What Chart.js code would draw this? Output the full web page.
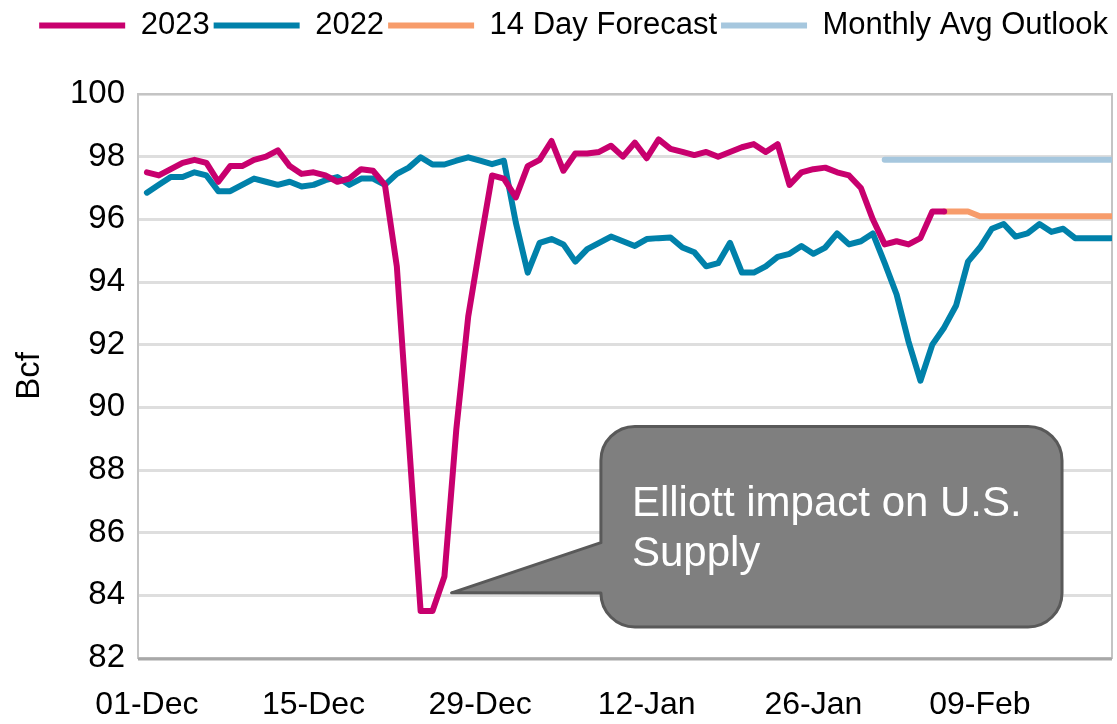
<!DOCTYPE html>
<html>
<head>
<meta charset="utf-8">
<script src="https://cdn.jsdelivr.net/npm/chart.js@4.4.0/dist/chart.umd.min.js"></script>
<style>
  html, body { margin: 0; padding: 0; background: #fff; }
  #wrap { width: 1117px; height: 724px; }
</style>
</head>
<body>
<div id="wrap"><canvas id="supplyChart"></canvas></div>
<script>
// x axis = day number counted from 01-Dec
const tickDays = [0, 14, 28, 42, 56, 70];
const tickLabels = ['01-Dec', '15-Dec', '29-Dec', '12-Jan', '26-Jan', '09-Feb'];

// 2023 season, 01-Dec .. 06-Feb
const supply2023 = [
  97.5, 97.4, 97.6, 97.8, 97.9, 97.8, 97.2, 97.7, 97.7, 97.9,
  98.0, 98.2, 97.7, 97.45, 97.5, 97.4, 97.2, 97.3, 97.6, 97.55,
  97.1, 94.5, 89.0, 83.5, 83.5, 84.6, 89.3, 92.9, 95.2, 97.4,
  97.3, 96.7, 97.7, 97.9, 98.5, 97.55, 98.1, 98.1, 98.15, 98.35,
  98.0, 98.45, 97.95, 98.55, 98.25, 98.15, 98.05, 98.15, 98.0, 98.15,
  98.3, 98.4, 98.15, 98.4, 97.1, 97.5, 97.6, 97.65, 97.5, 97.4,
  97.0, 96.0, 95.2, 95.3, 95.2, 95.4, 96.25, 96.25
];

// 2022 season, 01-Dec .. 20-Feb
const supply2022 = [
  96.85, 97.1, 97.35, 97.35, 97.5, 97.4, 96.9, 96.9, 97.1, 97.3,
  97.2, 97.1, 97.2, 97.05, 97.1, 97.25, 97.35, 97.1, 97.3, 97.3,
  97.1, 97.45, 97.65, 97.98, 97.75, 97.75, 97.87, 97.98, 97.87, 97.76,
  97.87, 95.9, 94.3, 95.25, 95.37, 95.2, 94.65, 95.05, 95.25, 95.45,
  95.3, 95.15, 95.37, 95.4, 95.42, 95.1, 94.95, 94.5, 94.6, 95.25,
  94.3, 94.3, 94.5, 94.8, 94.9, 95.15, 94.9, 95.1, 95.55, 95.2,
  95.3, 95.55, 94.6, 93.6, 92.1, 90.85, 92.0, 92.55, 93.25, 94.65,
  95.1, 95.7, 95.85, 95.45, 95.55, 95.85, 95.6, 95.7, 95.4, 95.4,
  95.4, 95.4
];

// 14 day forecast, 06-Feb .. 20-Feb
const forecastStart = 67;
const forecast = [96.25, 96.25, 96.25, 96.1, 96.1, 96.1, 96.1, 96.1, 96.1, 96.1, 96.1, 96.1, 96.1, 96.1, 96.1];

// monthly average outlook, 01-Feb .. 20-Feb
const outlookStart = 62;
const monthlyOutlook = [
  97.9, 97.9, 97.9, 97.9, 97.9, 97.9, 97.9, 97.9, 97.9, 97.9,
  97.9, 97.9, 97.9, 97.9, 97.9, 97.9, 97.9, 97.9, 97.9, 97.9
];

function toPoints(values, start) {
  return values.map((v, i) => ({ x: start + i, y: v }));
}

// callout position in axis units
const callout = {
  lines: ['Elliott impact on U.S.', 'Supply'],
  tipDay: 25.6, tipValue: 84.08,
  pointerTop: 85.68,
  boxFromDay: 38.15, boxToDay: 76.9,
  boxTop: 89.39, boxBottom: 82.99
};

Chart.defaults.font.family = "'Liberation Sans', Arial, sans-serif";
Chart.defaults.color = '#000';

// extra room under the legend
const legendGapPlugin = {
  id: 'legendGap',
  beforeInit(chart) {
    const fit = chart.legend.fit;
    chart.legend.fit = function () {
      fit.call(this);
      this.height += 43;
    };
  }
};

// plot frame
const framePlugin = {
  id: 'frame',
  beforeDatasetsDraw(chart) {
    const { ctx, chartArea: a } = chart;
    ctx.save();
    ctx.strokeStyle = '#c4c4c4';
    ctx.lineWidth = 2;
    ctx.strokeRect(a.left, a.top, a.right - a.left, a.bottom - a.top);
    ctx.strokeStyle = '#a8a8a8';
    ctx.lineWidth = 3;
    ctx.beginPath();
    ctx.moveTo(a.left, a.bottom + 1);
    ctx.lineTo(a.right, a.bottom + 1);
    ctx.stroke();
    ctx.restore();
  }
};

// speech bubble
const calloutPlugin = {
  id: 'callout',
  afterDatasetsDraw(chart) {
    const { ctx, scales: { x, y } } = chart;
    const tx = x.getPixelForValue(callout.tipDay);
    const ty = y.getPixelForValue(callout.tipValue);
    const py = y.getPixelForValue(callout.pointerTop);
    const left = x.getPixelForValue(callout.boxFromDay);
    const right = x.getPixelForValue(callout.boxToDay);
    const top = y.getPixelForValue(callout.boxTop);
    const bottom = y.getPixelForValue(callout.boxBottom);
    const r = 34;

    ctx.save();
    ctx.beginPath();
    ctx.moveTo(left + r, top);
    ctx.lineTo(right - r, top);
    ctx.arcTo(right, top, right, top + r, r);
    ctx.lineTo(right, bottom - r);
    ctx.arcTo(right, bottom, right - r, bottom, r);
    ctx.lineTo(left + r, bottom);
    ctx.arcTo(left, bottom, left, bottom - r, r);
    ctx.lineTo(tx, ty);
    ctx.lineTo(left, py);
    ctx.lineTo(left, top + r);
    ctx.arcTo(left, top, left + r, top, r);
    ctx.closePath();
    ctx.fillStyle = '#7f7f7f';
    ctx.fill();
    ctx.lineJoin = 'round';
    ctx.strokeStyle = '#595959';
    ctx.lineWidth = 3;
    ctx.stroke();

    ctx.fillStyle = '#fff';
    ctx.font = "42px 'Liberation Sans', Arial, sans-serif";
    ctx.textBaseline = 'alphabetic';
    ctx.textAlign = 'left';
    callout.lines.forEach((t, i) => {
      ctx.fillText(t, left + 31, top + 90 + i * 50);
    });
    ctx.restore();
  }
};

new Chart(document.getElementById('supplyChart'), {
  type: 'line',
  data: {
    datasets: [
      { label: '2023', data: toPoints(supply2023, 0), borderColor: '#c8006e', backgroundColor: '#c8006e' },
      { label: '2022', data: toPoints(supply2022, 0), borderColor: '#0081aa', backgroundColor: '#0081aa' },
      { label: '14 Day Forecast', data: toPoints(forecast, forecastStart), borderColor: '#f79c6b', backgroundColor: '#f79c6b' },
      { label: 'Monthly Avg Outlook', data: toPoints(monthlyOutlook, outlookStart), borderColor: '#a6c7de', backgroundColor: '#a6c7de' }
    ]
  },
  options: {
    responsive: true,
    maintainAspectRatio: false,
    animation: false,
    devicePixelRatio: 1,
    layout: { padding: { top: 6, right: 5, bottom: 0, left: 0 } },
    elements: {
      point: { radius: 0 },
      line: { borderWidth: 6, tension: 0, borderJoinStyle: 'round', borderCapStyle: 'round' }
    },
    plugins: {
      tooltip: { enabled: false },
      legend: {
        position: 'top',
        align: 'end',
        labels: {
          boxWidth: 86,
          boxHeight: 6,
          padding: 4,
          font: { size: 31 },
          generateLabels: chart => chart.data.datasets.map((ds, i) => ({
            text: ds.label,
            fillStyle: ds.borderColor,
            strokeStyle: ds.borderColor,
            lineWidth: 0,
            hidden: false,
            datasetIndex: i,
            fontColor: '#000'
          }))
        }
      }
    },
    scales: {
      x: {
        type: 'linear',
        min: -0.75,
        max: 81.1,
        grid: { display: false, drawTicks: false },
        border: { display: false },
        afterBuildTicks: s => { s.ticks = tickDays.map(v => ({ value: v })); },
        afterFit: s => { s.height = 66; },
        ticks: {
          autoSkip: false,
          maxRotation: 0,
          padding: 28,
          font: { size: 32 },
          callback: v => tickLabels[tickDays.indexOf(v)]
        }
      },
      y: {
        min: 82,
        max: 100,
        afterFit: s => { s.width = 138; },
        grid: { color: '#dedede', lineWidth: 3, drawTicks: false },
        border: { display: false },
        ticks: { stepSize: 2, padding: 13, font: { size: 33 } },
        title: { display: true, text: 'Bcf', font: { size: 33 }, padding: { top: 10, bottom: 0 } }
      }
    }
  },
  plugins: [legendGapPlugin, framePlugin, calloutPlugin]
});
</script>
</body>
</html>
